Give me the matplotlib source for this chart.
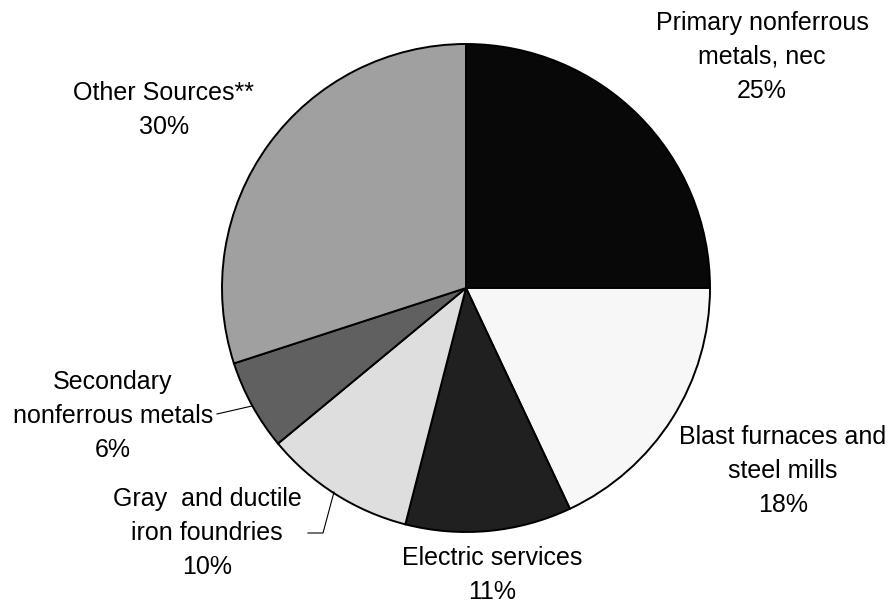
import matplotlib.pyplot as plt
from matplotlib.lines import Line2D

# slices, clockwise from 12 o'clock
labels = ["Primary nonferrous\nmetals, nec", "Blast furnaces and\nsteel mills",
          "Electric services", "Gray  and ductile\niron foundries",
          "Secondary\nnonferrous metals", "Other Sources**"]
shares = [25, 18, 11, 10, 6, 30]
colors = ["#080808", "#f7f7f7", "#202020", "#dedede", "#606060", "#a0a0a0"]

# label anchor (center x, baseline of last line) in pixels from top-left
label_pos = [(762, 98), (783, 512), (492, 599), (207, 574), (113, 457), (164, 134)]

W, H = 895, 603
CX, CY, R = 466, 288, 244


def fig_xy(x, y):
    return x / W, 1 - y / H


plt.rcParams['font.family'] = ['Liberation Sans', 'DejaVu Sans']

fig = plt.figure(figsize=(W / 100, H / 100), dpi=100)
ax = fig.add_axes([(CX - R) / W, (H - CY - R) / H, 2 * R / W, 2 * R / H])
ax.pie(shares, colors=colors, startangle=90, counterclock=False, radius=1,
       wedgeprops=dict(edgecolor="black", linewidth=1.4))
ax.set_xlim(-1, 1)
ax.set_ylim(-1, 1)
ax.set_aspect("auto")
ax.axis("off")

for lab, val, (x, y) in zip(labels, shares, label_pos):
    fx, fy = fig_xy(x, y)
    fig.text(fx, fy, f"{lab}\n{val}%", ha="center", va="baseline",
             multialignment="center", fontsize=18, linespacing=1.53)

# leader lines
leaders = [[(217, 414), (252, 406)],
           [(308, 533), (323, 533), (334, 492)]]
for pts in leaders:
    xs = [fig_xy(*p)[0] for p in pts]
    ys = [fig_xy(*p)[1] for p in pts]
    fig.add_artist(Line2D(xs, ys, transform=fig.transFigure, color="black", linewidth=0.8))

fig.savefig("out.png", dpi=100)
